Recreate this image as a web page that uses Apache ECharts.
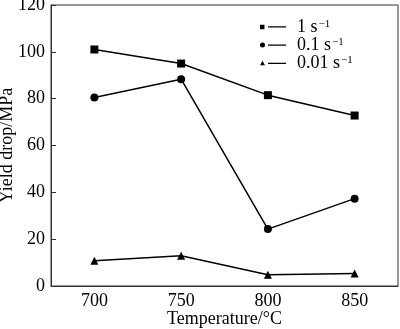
<!DOCTYPE html>
<html>
<head>
<meta charset="utf-8">
<script src="https://cdn.jsdelivr.net/npm/echarts@6/dist/echarts.min.js"></script>
<style>
html,body{margin:0;padding:0;background:#fff;}
#c{width:400px;height:329px;}
</style>
</head>
<body>
<div id="c"></div>
<script>
var categories = ['700', '750', '800', '850'];
var rate1 = [101, 95, 81.5, 72.8];
var rate01 = [80.5, 88.3, 24.3, 37.3];
var rate001 = [10.8, 12.9, 4.8, 5.3];
var seriesNames = ['1 s-1', '0.1 s-1', '0.01 s-1'];
var legendLabels = {'1 s-1': '1 s', '0.1 s-1': '0.1 s', '0.01 s-1': '0.01 s'};

var font = '"Liberation Serif", "Times New Roman", serif';
var lineTail = ' M8 2 H26 V3.3 H8 Z';
var icons = [
  'path://M0 0.5 H4.5 V5 H0 Z' + lineTail,
  'path://M2.5 0 A2.5 2.5 0 1 1 2.5 5 A2.5 2.5 0 1 1 2.5 0 Z' + lineTail,
  'path://M2.5 0 L5 4.5 L0 4.5 Z' + lineTail
];

var chart = echarts.init(document.getElementById('c'));
function mk(name, data, symbol, size) {
  return {
    name: name, type: 'line', data: data,
    symbol: symbol, symbolSize: size,
    showAllSymbol: true,
    lineStyle: {color: '#000', width: 1.5},
    itemStyle: {color: '#000'},
    emphasis: {disabled: true},
    animation: false
  };
}
chart.setOption({
  backgroundColor: '#fff',
  animation: false,
  grid: {left: 51, right: 2, top: 5, bottom: 43, outerBoundsMode: 'none', containLabel: false,
         show: true, borderColor: '#333', borderWidth: 1, backgroundColor: 'transparent'},
  legend: {
    orient: 'vertical', left: 260, top: 18, itemGap: 0, padding: 0,
    itemWidth: 26, itemHeight: 5,
    data: seriesNames.map(function (n, i) { return {name: n, icon: icons[i]}; }),
    formatter: function (n) { return '{n|' + legendLabels[n] + '}{s|\u22121}'; },
    textStyle: {
      color: '#000', fontFamily: font, fontSize: 18, lineHeight: 17.5, padding: [0, 0, 0, 6],
      rich: {
        n: {fontFamily: font, fontSize: 18, color: '#000', lineHeight: 17.5},
        s: {fontFamily: font, fontSize: 11, color: '#000', lineHeight: 11, verticalAlign: 'top', padding: [0, 0, 0, 1]}
      }
    },
    selectedMode: false
  },
  xAxis: {
    type: 'category', data: categories, boundaryGap: true,
    name: 'Temperature/\u00b0C', nameLocation: 'middle', nameGap: 24, nameMoveOverlap: false,
    nameTextStyle: {color: '#000', fontFamily: font, fontSize: 18},
    axisLine: {lineStyle: {color: '#333', width: 1}},
    axisTick: {inside: true, alignWithLabel: true, length: 5, lineStyle: {color: '#333'}},
    axisLabel: {color: '#000', fontFamily: font, fontSize: 18, margin: 6},
    splitLine: {show: false}
  },
  yAxis: {
    type: 'value', min: 0, max: 120, interval: 20,
    name: 'Yield drop/MPa', nameLocation: 'middle', nameGap: 35, nameMoveOverlap: false,
    nameTextStyle: {color: '#000', fontFamily: font, fontSize: 18},
    axisLine: {show: true, lineStyle: {color: '#333', width: 1}},
    axisTick: {show: true, inside: true, length: 5, lineStyle: {color: '#333'}},
    axisLabel: {color: '#000', fontFamily: font, fontSize: 18, margin: 6},
    splitLine: {show: false}
  },
  series: [
    mk(seriesNames[0], rate1, 'rect', 8),
    mk(seriesNames[1], rate01, 'circle', 8),
    mk(seriesNames[2], rate001, 'triangle', 8)
  ]
});
</script>
</body>
</html>
